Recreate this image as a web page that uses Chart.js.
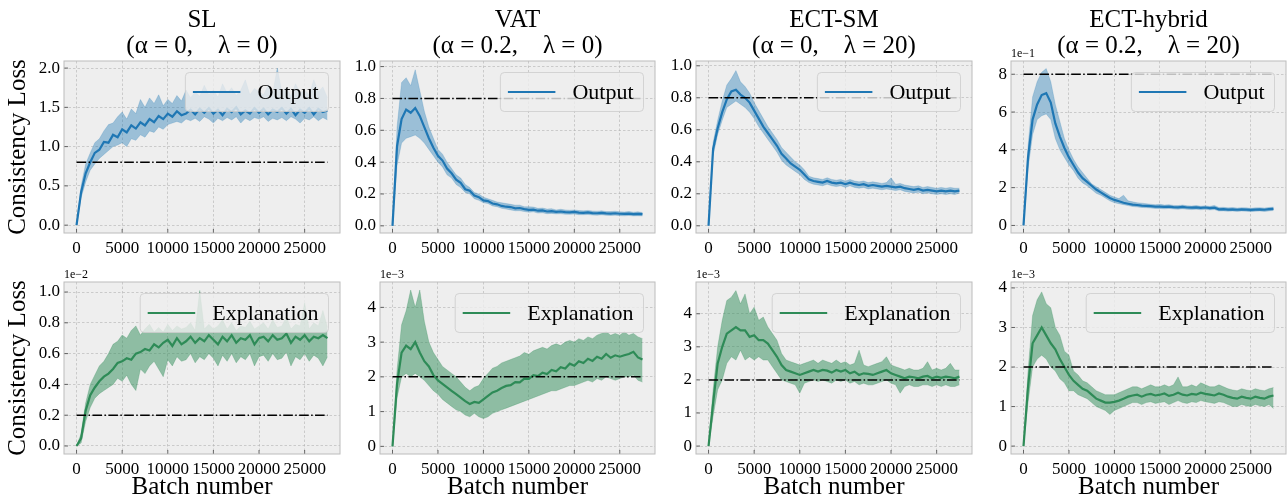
<!DOCTYPE html>
<html>
<head>
<meta charset="utf-8">
<script src="https://cdn.jsdelivr.net/npm/chart.js@4.4.1/dist/chart.umd.min.js"></script>
<style>
  body { margin: 0; background: #fff; width: 1288px; height: 502px; position: relative; overflow: hidden; }
  canvas { position: absolute; }
</style>
</head>
<body>
<script>
// batch numbers shared by every run
const batches = [0,500,1000,1500,2000,2500,3000,3500,4000,4500,5000,5500,6000,6500,7000,7500,8000,8500,9000,9500,
  10000,10500,11000,11500,12000,12500,13000,13500,14000,14500,15000,15500,16000,16500,17000,17500,18000,18500,19000,19500,
  20000,20500,21000,21500,22000,22500,23000,23500,24000,24500,25000,25500,26000,26500,27000,27500];

const xTickLabels = ['0', '5000', '10000', '15000', '20000', '25000'];

// top row: output consistency loss
const slOutMean = [0,0.42,0.66,0.80,0.92,0.96,1.06,1.05,1.15,1.12,1.22,1.18,1.27,1.23,1.31,1.27,1.35,1.31,1.39,1.35,1.42,1.38,1.45,1.40,1.42,1.47,1.41,1.48,1.43,1.49,1.42,1.47,1.40,1.48,1.44,1.50,1.41,1.46,1.42,1.49,1.43,1.48,1.41,1.47,1.44,1.49,1.42,1.48,1.40,1.47,1.43,1.49,1.41,1.48,1.44,1.46];
const slOutHigh = [0,0.50,0.78,0.92,1.05,1.10,1.20,1.28,1.30,1.38,1.44,1.35,1.48,1.42,1.60,1.50,1.62,1.55,1.66,1.52,1.60,1.55,1.65,1.58,1.72,1.62,1.70,1.64,1.78,1.66,1.72,1.63,1.80,1.68,1.75,1.65,1.72,1.85,1.66,1.74,1.70,1.66,1.78,1.68,2.00,1.70,1.75,1.64,1.80,1.68,1.72,1.66,1.85,1.70,1.76,1.62];
const slOutLow = [0,0.35,0.55,0.70,0.78,0.85,0.90,0.95,1.00,1.02,1.05,1.00,1.10,1.08,1.15,1.12,1.20,1.18,1.25,1.22,1.28,1.30,1.32,1.30,1.35,1.33,1.36,1.32,1.38,1.35,1.30,1.36,1.33,1.37,1.34,1.38,1.30,1.36,1.33,1.37,1.35,1.38,1.32,1.36,1.34,1.37,1.33,1.38,1.35,1.30,1.36,1.34,1.38,1.33,1.37,1.34];

const vatOutMean = [0,0.50,0.67,0.73,0.71,0.74,0.69,0.62,0.55,0.49,0.44,0.41,0.36,0.33,0.29,0.27,0.23,0.22,0.19,0.18,0.16,0.155,0.14,0.135,0.125,0.12,0.118,0.11,0.112,0.105,0.10,0.102,0.095,0.097,0.09,0.092,0.088,0.09,0.086,0.085,0.087,0.083,0.082,0.084,0.08,0.079,0.081,0.078,0.077,0.079,0.076,0.075,0.077,0.074,0.075,0.073];
const vatOutHigh = [0,0.62,0.90,0.93,0.88,0.98,0.85,0.72,0.62,0.55,0.48,0.45,0.40,0.36,0.32,0.30,0.26,0.24,0.21,0.20,0.18,0.17,0.16,0.15,0.145,0.14,0.135,0.13,0.13,0.12,0.12,0.118,0.11,0.112,0.105,0.108,0.10,0.104,0.10,0.098,0.10,0.096,0.094,0.097,0.093,0.092,0.094,0.09,0.09,0.092,0.088,0.087,0.09,0.086,0.088,0.084];
const vatOutLow = [0,0.38,0.52,0.55,0.56,0.57,0.55,0.52,0.48,0.44,0.40,0.37,0.32,0.30,0.26,0.24,0.21,0.20,0.17,0.16,0.145,0.14,0.125,0.12,0.11,0.105,0.10,0.095,0.095,0.09,0.085,0.088,0.08,0.082,0.076,0.078,0.075,0.076,0.073,0.072,0.074,0.07,0.07,0.071,0.068,0.067,0.069,0.066,0.065,0.067,0.064,0.063,0.065,0.062,0.063,0.062];

const smOutMean = [0,0.48,0.61,0.71,0.79,0.84,0.85,0.82,0.80,0.77,0.72,0.67,0.62,0.58,0.54,0.50,0.45,0.42,0.39,0.37,0.35,0.32,0.29,0.28,0.275,0.27,0.28,0.27,0.265,0.27,0.26,0.27,0.26,0.255,0.26,0.25,0.255,0.25,0.245,0.25,0.245,0.24,0.245,0.235,0.23,0.225,0.23,0.22,0.225,0.22,0.215,0.22,0.215,0.22,0.215,0.22];
const smOutHigh = [0,0.52,0.66,0.78,0.88,0.92,0.97,0.90,0.87,0.83,0.77,0.72,0.67,0.62,0.58,0.54,0.49,0.46,0.43,0.40,0.38,0.35,0.31,0.30,0.295,0.29,0.30,0.29,0.285,0.29,0.28,0.29,0.28,0.275,0.28,0.27,0.275,0.27,0.265,0.27,0.30,0.26,0.265,0.255,0.25,0.245,0.25,0.24,0.245,0.24,0.235,0.24,0.235,0.24,0.235,0.235];
const smOutLow = [0,0.44,0.57,0.66,0.74,0.76,0.78,0.76,0.74,0.71,0.67,0.62,0.58,0.54,0.50,0.46,0.41,0.38,0.36,0.34,0.32,0.29,0.27,0.26,0.255,0.25,0.26,0.25,0.245,0.25,0.24,0.25,0.24,0.235,0.24,0.23,0.235,0.23,0.225,0.23,0.225,0.22,0.225,0.215,0.21,0.205,0.21,0.20,0.205,0.20,0.195,0.20,0.195,0.20,0.195,0.205];

// ECT-hybrid output, in units of 1e-1
const hybOutMean = [0,3.6,5.6,6.4,6.9,7.0,6.5,5.4,4.7,4.1,3.6,3.2,2.8,2.5,2.3,2.1,1.9,1.75,1.6,1.45,1.35,1.28,1.2,1.15,1.1,1.08,1.05,1.04,1.02,1.0,1.0,0.98,1.0,0.97,0.96,0.98,0.95,0.94,0.96,0.93,0.95,0.92,0.94,0.85,0.86,0.84,0.85,0.83,0.85,0.84,0.82,0.84,0.85,0.83,0.86,0.88];
const hybOutHigh = [0,4.2,6.8,7.6,8.1,8.3,7.6,6.4,5.5,4.6,4.0,3.5,3.1,2.8,2.5,2.2,2.05,1.9,1.75,1.6,1.5,1.42,1.6,1.3,1.25,1.2,1.18,1.15,1.12,1.1,1.12,1.08,1.1,1.06,1.05,1.08,1.04,1.03,1.05,1.02,1.04,1.01,1.06,0.95,0.96,0.93,0.95,0.92,0.94,0.93,0.91,0.93,0.94,0.92,0.95,0.97];
const hybOutLow = [0,3.0,4.8,5.6,5.8,5.9,5.6,4.6,4.0,3.6,3.2,2.9,2.5,2.25,2.1,1.9,1.7,1.6,1.45,1.3,1.2,1.15,1.1,1.05,1.0,0.98,0.95,0.94,0.92,0.9,0.9,0.88,0.9,0.87,0.86,0.88,0.85,0.84,0.86,0.83,0.85,0.82,0.84,0.76,0.77,0.75,0.76,0.74,0.76,0.75,0.73,0.75,0.76,0.74,0.77,0.79];

// bottom row: explanation consistency loss
// SL in units of 1e-2
const slExpMean = [0,0.05,0.23,0.33,0.38,0.42,0.45,0.47,0.50,0.54,0.55,0.57,0.56,0.60,0.61,0.63,0.62,0.66,0.64,0.67,0.69,0.65,0.70,0.66,0.68,0.71,0.67,0.70,0.68,0.72,0.69,0.66,0.71,0.68,0.72,0.67,0.70,0.69,0.72,0.66,0.70,0.71,0.68,0.72,0.69,0.70,0.73,0.67,0.71,0.69,0.72,0.68,0.71,0.70,0.72,0.70];
const slExpHigh = [0,0.08,0.28,0.40,0.46,0.52,0.55,0.60,0.66,0.68,0.72,0.70,0.75,0.78,0.72,0.76,0.79,0.74,0.77,0.74,0.79,0.75,0.78,0.76,0.77,0.80,0.75,1.01,0.76,0.79,0.76,0.78,0.82,0.76,0.80,0.75,0.78,0.77,0.81,0.76,0.78,0.80,0.76,0.82,0.77,0.78,0.84,0.76,0.79,0.78,0.93,0.76,0.80,0.78,0.88,0.77];
const slExpLow = [0,0.02,0.16,0.25,0.31,0.34,0.36,0.38,0.40,0.44,0.42,0.46,0.40,0.36,0.50,0.47,0.52,0.55,0.50,0.45,0.56,0.52,0.58,0.55,0.56,0.60,0.54,0.58,0.56,0.60,0.57,0.52,0.59,0.55,0.60,0.54,0.58,0.56,0.60,0.52,0.58,0.59,0.55,0.60,0.56,0.57,0.61,0.52,0.58,0.56,0.60,0.55,0.59,0.57,0.52,0.58];

// the other three in units of 1e-3
const vatExpMean = [0,1.8,2.7,2.9,2.8,3.0,2.7,2.45,2.3,2.05,1.9,1.8,1.7,1.6,1.5,1.4,1.3,1.22,1.28,1.25,1.35,1.45,1.55,1.6,1.68,1.74,1.76,1.85,1.84,1.95,1.94,2.05,2.02,2.12,2.08,2.2,2.16,2.28,2.24,2.38,2.32,2.45,2.4,2.52,2.46,2.58,2.52,2.66,2.55,2.62,2.58,2.62,2.66,2.72,2.56,2.5];
const vatExpHigh = [0,2.2,3.5,3.9,4.5,4.0,4.5,3.6,3.0,2.7,2.5,2.3,2.2,2.1,2.0,1.85,1.7,1.6,1.7,1.75,1.95,2.1,2.25,2.3,2.4,2.45,2.5,2.55,2.6,2.7,2.65,2.75,2.8,2.85,2.8,2.9,2.95,2.9,3.0,3.05,3.0,3.1,3.05,3.15,3.1,3.2,3.25,3.3,3.2,3.25,3.2,3.3,3.2,3.25,3.15,3.1];
const vatExpLow = [0,1.4,2.0,2.1,2.0,2.1,2.0,1.9,1.75,1.6,1.5,1.35,1.25,1.15,1.05,1.0,0.9,0.85,0.95,0.85,0.8,0.85,0.95,1.0,1.05,1.1,1.15,1.2,1.25,1.3,1.35,1.4,1.45,1.5,1.55,1.6,1.6,1.65,1.7,1.75,1.75,1.8,1.85,1.9,1.85,1.95,1.9,2.0,1.95,1.9,1.95,2.0,2.0,2.05,1.9,1.85];

const smExpMean = [0,1.3,2.5,3.0,3.4,3.5,3.6,3.5,3.5,3.3,3.35,3.2,3.2,3.1,2.9,2.7,2.45,2.3,2.25,2.2,2.15,2.2,2.25,2.3,2.25,2.3,2.28,2.22,2.3,2.25,2.3,2.2,2.25,2.15,2.2,2.18,2.15,2.2,2.25,2.3,2.2,2.15,2.1,2.05,2.1,2.08,2.05,2.1,2.12,2.05,2.1,2.06,2.1,2.08,2.05,2.1];
const smExpHigh = [0,1.7,3.0,3.8,4.4,4.5,4.7,4.3,4.6,4.0,4.2,3.8,3.9,3.6,3.4,3.2,2.8,2.6,2.55,2.5,2.45,2.5,2.55,2.6,2.5,2.6,2.55,2.5,2.6,2.5,2.55,2.45,2.5,2.9,2.45,2.4,2.45,2.5,2.55,2.7,2.45,2.4,2.35,2.3,2.35,2.3,2.3,2.35,2.55,2.3,2.35,2.3,2.35,2.5,2.3,2.3];
const smExpLow = [0,0.9,1.7,2.0,2.5,2.7,2.6,2.9,2.6,2.7,2.6,2.7,2.6,2.6,2.4,2.2,2.0,1.95,1.9,1.85,1.6,1.9,1.95,2.0,1.95,2.0,1.95,1.9,2.0,1.95,2.0,1.9,1.95,1.85,1.9,1.85,1.85,1.9,1.95,2.0,1.9,1.85,1.6,1.8,1.85,1.8,1.8,1.85,1.85,1.8,1.85,1.8,1.85,1.8,1.8,1.85];

const hybExpMean = [0,1.5,2.6,2.8,3.0,2.8,2.6,2.45,2.2,2.0,1.8,1.65,1.55,1.45,1.4,1.3,1.2,1.15,1.1,1.1,1.12,1.15,1.2,1.25,1.28,1.3,1.25,1.3,1.32,1.28,1.3,1.33,1.27,1.3,1.35,1.3,1.28,1.32,1.3,1.35,1.32,1.3,1.28,1.33,1.3,1.25,1.22,1.2,1.25,1.22,1.2,1.25,1.22,1.2,1.25,1.28];
const hybExpHigh = [0,1.9,3.3,3.7,3.9,3.6,3.5,3.0,2.8,2.4,2.3,1.9,1.8,1.65,1.6,1.5,1.4,1.35,1.3,1.3,1.3,1.35,1.4,1.45,1.5,1.5,1.45,1.5,1.55,1.5,1.5,1.55,1.5,1.55,1.75,1.5,1.5,1.55,1.5,1.6,1.55,1.5,1.5,1.55,1.5,1.45,1.42,1.4,1.45,1.42,1.4,1.45,1.42,1.4,1.45,1.48];
const hybExpLow = [0,1.1,2.0,2.2,2.3,2.2,2.0,1.9,1.7,1.6,1.4,1.4,1.3,1.25,1.2,1.1,1.0,0.95,0.9,0.8,0.9,0.95,1.0,1.05,1.1,1.1,1.05,1.1,1.12,1.08,1.1,1.12,1.05,1.1,1.15,1.1,1.08,1.12,1.1,1.15,1.12,1.1,1.08,1.12,1.1,1.05,1.0,1.0,1.05,1.02,1.0,1.05,1.02,1.0,1.05,0.95];

// dash-dot reference levels
const outputRef = [0.8, 0.8, 0.8, 8];
const explRef = [0.2, 2, 2, 2];

const titles = [['SL', '(α = 0,    λ = 0)'], ['VAT', '(α = 0.2,    λ = 0)'],
                ['ECT-SM', '(α = 0,    λ = 20)'], ['ECT-hybrid', '(α = 0.2,    λ = 20)']];

const yTicksOut = [['0.0','0.5','1.0','1.5','2.0'], ['0.0','0.2','0.4','0.6','0.8','1.0'],
                   ['0.0','0.2','0.4','0.6','0.8','1.0'], ['0','2','4','6','8']];
const yTicksExp = [['0.0','0.2','0.4','0.6','0.8','1.0'], ['0','1','2','3','4'],
                   ['0','1','2','3','4'], ['0','1','2','3','4']];
const outOffsets = ['', '', '', '1e\u22121'];
const expOffsets = ['1e\u22122', '1e\u22123', '1e\u22123', '1e\u22123'];

const BLUE = '#1f77b4', BLUE_BAND = 'rgba(31,119,180,0.4)';
const GREEN = '#2e8b57', GREEN_BAND = 'rgba(46,139,87,0.5)';
const SERIF = "'Liberation Serif', 'Times New Roman', serif";

const panels = [
  {mean: slOutMean, lo: slOutLow, hi: slOutHigh, ymin: -0.1, ymax: 2.09},
  {mean: vatOutMean, lo: vatOutLow, hi: vatOutHigh, ymin: -0.045, ymax: 1.035},
  {mean: smOutMean, lo: smOutLow, hi: smOutHigh, ymin: -0.045, ymax: 1.03},
  {mean: hybOutMean, lo: hybOutLow, hi: hybOutHigh, ymin: -0.4, ymax: 8.7},
  {mean: slExpMean, lo: slExpLow, hi: slExpHigh, ymin: -0.052, ymax: 1.065},
  {mean: vatExpMean, lo: vatExpLow, hi: vatExpHigh, ymin: -0.22, ymax: 4.73},
  {mean: smExpMean, lo: smExpLow, hi: smExpHigh, ymin: -0.24, ymax: 4.96},
  {mean: hybExpMean, lo: hybExpLow, hi: hybExpHigh, ymin: -0.2, ymax: 4.15}
];

// axes boxes on the page
const colLeft = [64, 380, 696, 1011];
const colRight = [340, 655, 972, 1286];
const rowTop = [61, 282];
const rowBottom = [233, 454];

Chart.defaults.font.family = SERIF;
Chart.defaults.color = '#000';

// grey axes face, frame, inward ticks, offset text and an in-axes legend
const axesDecor = {
  id: 'axesDecor',
  beforeDraw(chart) {
    const {ctx, chartArea: a} = chart;
    ctx.save();
    ctx.fillStyle = '#eeeeee';
    ctx.fillRect(a.left, a.top, a.width, a.height);
    ctx.restore();
  },
  afterDraw(chart, args, opts) {
    const {ctx, chartArea: a} = chart;
    ctx.save();
    // legend
    ctx.font = '22px ' + SERIF;
    const tw = ctx.measureText(opts.label).width;
    const w = 7.5 + 47.5 + 17 + tw + 10, h = 39;
    const x = a.right - 11.5 - w, y = a.top + 11.5, r = 4;
    ctx.beginPath();
    ctx.moveTo(x + r, y);
    ctx.arcTo(x + w, y, x + w, y + h, r);
    ctx.arcTo(x + w, y + h, x, y + h, r);
    ctx.arcTo(x, y + h, x, y, r);
    ctx.arcTo(x, y, x + w, y, r);
    ctx.closePath();
    ctx.fillStyle = 'rgba(238,238,238,0.8)';
    ctx.fill();
    ctx.strokeStyle = 'rgba(204,204,204,0.8)';
    ctx.lineWidth = 1;
    ctx.stroke();
    ctx.beginPath();
    ctx.moveTo(x + 7.5, y + h / 2);
    ctx.lineTo(x + 55, y + h / 2);
    ctx.strokeStyle = opts.color;
    ctx.lineWidth = 2;
    ctx.stroke();
    ctx.fillStyle = '#000';
    ctx.textBaseline = 'middle';
    ctx.fillText(opts.label, x + 72, y + h / 2 + 1);

    // inward tick marks
    ctx.strokeStyle = '#444';
    ctx.lineWidth = 0.8;
    ctx.beginPath();
    chart.scales.x.ticks.forEach(t => {
      const px = chart.scales.x.getPixelForValue(t.value);
      ctx.moveTo(px, a.bottom); ctx.lineTo(px, a.bottom - 4);
    });
    chart.scales.y.ticks.forEach(t => {
      const py = chart.scales.y.getPixelForValue(t.value);
      ctx.moveTo(a.left, py); ctx.lineTo(a.left + 4, py);
    });
    ctx.stroke();

    // frame
    ctx.strokeStyle = '#bcbcbc';
    ctx.lineWidth = 1;
    ctx.strokeRect(a.left, a.top, a.width, a.height);

    // offset text
    if (opts.offset) {
      ctx.font = '12px ' + SERIF;
      ctx.textBaseline = 'alphabetic';
      ctx.fillStyle = '#000';
      ctx.fillText(opts.offset, a.left, a.top - 4);
    }
    ctx.restore();
  }
};

const pts = arr => batches.map((b, i) => ({x: b, y: arr[i]}));

panels.forEach((p, k) => {
  const row = k < 4 ? 0 : 1, col = k % 4;
  const yw = col === 0 ? 64 : 40;
  const left = colLeft[col] - yw;
  const top = row === 0 ? 0 : 258;
  const xh = row === 0 ? 32 : 48;
  const width = colRight[col] - left + 6;
  const height = rowBottom[row] + xh - top;
  const yLabels = row === 0 ? yTicksOut[col] : yTicksExp[col];
  const ref = row === 0 ? outputRef[col] : explRef[col];
  const color = row === 0 ? BLUE : GREEN;
  const band = row === 0 ? BLUE_BAND : GREEN_BAND;

  const canvas = document.createElement('canvas');
  canvas.width = width;
  canvas.height = height;
  canvas.style.left = left + 'px';
  canvas.style.top = top + 'px';
  canvas.style.width = width + 'px';
  canvas.style.height = height + 'px';
  document.body.appendChild(canvas);

  new Chart(canvas, {
    type: 'line',
    data: {
      datasets: [{
        data: [{x: batches[0], y: ref}, {x: batches[batches.length - 1], y: ref}],
        borderColor: '#000', borderWidth: 1.5, borderDash: [9.6, 2.4, 1.5, 2.4],
        pointRadius: 0, fill: false
      }, {
        data: pts(p.mean), borderColor: color, borderWidth: 2.2, pointRadius: 0, fill: false
      }, {
        data: pts(p.lo), borderColor: band, borderWidth: 0.5, pointRadius: 0, fill: false
      }, {
        data: pts(p.hi), borderColor: band, borderWidth: 0.5, backgroundColor: band, pointRadius: 0, fill: '-1'
      }]
    },
    options: {
      responsive: false,
      animation: false,
      devicePixelRatio: 1,
      events: [],
      layout: {padding: {top: row === 0 ? 0 : rowTop[1] - top, right: 6, left: 0, bottom: 0}},
      scales: {
        x: {
          type: 'linear', min: -1375, max: 28875,
          afterBuildTicks: s => { s.ticks = xTickLabels.map(l => ({value: parseFloat(l)})); },
          afterFit: s => { s.height = xh; },
          ticks: {font: {size: 17}, padding: 5, maxRotation: 0, autoSkip: false,
                  callback: (v, i) => xTickLabels[i]},
          grid: {color: '#b2b2b2', lineWidth: 0.6, drawTicks: false},
          border: {display: false, dash: [2.5, 2]},
          title: {display: row === 1, text: 'Batch number', font: {size: 25}, padding: {top: 0, bottom: 0}}
        },
        y: {
          type: 'linear', min: p.ymin, max: p.ymax,
          afterBuildTicks: s => { s.ticks = yLabels.map(l => ({value: parseFloat(l)})); },
          afterFit: s => { s.width = yw; },
          ticks: {font: {size: 17}, padding: 4, autoSkip: false, callback: (v, i) => yLabels[i]},
          grid: {color: '#b2b2b2', lineWidth: 0.6, drawTicks: false},
          border: {display: false, dash: [2.5, 2]},
          title: {display: col === 0, text: 'Consistency Loss', font: {size: 25}, padding: {top: 3, bottom: 0}}
        }
      },
      plugins: {
        legend: {display: false},
        tooltip: {enabled: false},
        title: {
          display: row === 0, text: titles[col], fullSize: false,
          font: {size: 25, weight: 'normal', lineHeight: '26px'},
          padding: {top: 7, bottom: 2}
        },
        axesDecor: {
          label: row === 0 ? 'Output' : 'Explanation',
          color: color,
          offset: row === 0 ? outOffsets[col] : expOffsets[col]
        }
      }
    },
    plugins: [axesDecor]
  });
});
</script>
</body>
</html>
